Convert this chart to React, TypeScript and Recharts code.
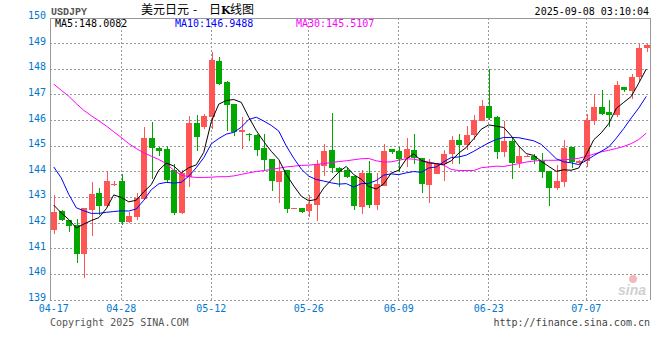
import { ComposedChart, Bar, Line, XAxis, YAxis, CartesianGrid, ReferenceLine } from 'recharts'

// daily candles, 04-17 .. mid July (Sina FX, includes Saturday rows)
const opens = [
  141.73, 142.47, 142.12, 141.92, 140.79, 142.51, 143.16, 142.68, 143.52, 143.64,
  142.03, 142.25, 142.94, 145.32, 144.94, 144.88, 144.06, 142.4, 143.81, 145.92,
  145.73, 146.12, 148.31, 147.51, 146.64, 145.56, 145.49, 145.43, 144.91, 144.49,
  143.61, 144.06, 142.56, 142.57, 142.48, 142.7, 144.23, 144.84, 144.16, 144.09,
  143.84, 142.64, 143.94, 142.7, 143.45, 144.88, 144.81, 144.52, 144.84, 144.52,
  143.48, 143.91, 144.32, 144.69, 145.23, 145.04, 145.43, 145.99, 146.56, 146.12,
  144.78, 145.19, 144.35, 144.6, 144.61, 144.42, 144.03, 143.38, 143.61, 144.95,
  144.35, 144.42, 145.99, 146.51, 146.34, 146.21, 147.29, 147.16, 147.7, 148.83,
]
const highs = [
  143.09, 142.5, 142.14, 142.16, 142.6, 143.6, 143.35, 144.03, 143.66, 143.91,
  142.44, 143.19, 145.75, 145.95, 144.95, 145.0, 144.3, 144.06, 146.17, 146.21,
  146.25, 148.68, 148.48, 147.53, 146.66, 146.14, 145.5, 145.49, 145.49, 144.5,
  144.42, 144.08, 142.6, 142.58, 143.09, 144.45, 145.08, 146.3, 144.17, 144.16,
  143.85, 144.09, 144.42, 143.97, 145.1, 144.89, 144.97, 145.32, 145.47, 144.53,
  144.49, 144.35, 144.87, 145.39, 145.47, 145.78, 146.21, 146.79, 148.03, 146.17,
  145.99, 145.3, 144.97, 144.64, 144.71, 144.75, 144.05, 144.26, 145.23, 144.96,
  144.48, 146.25, 146.99, 147.18, 146.79, 147.53, 147.3, 147.81, 149.0, 149.0,
]
const lows = [
  141.57, 142.1, 141.64, 140.43, 139.84, 141.51, 142.31, 142.66, 143.45, 141.92,
  141.99, 142.12, 142.9, 143.71, 144.62, 143.55, 142.31, 142.34, 143.42, 144.82,
  145.66, 145.66, 147.4, 145.58, 145.39, 144.88, 145.19, 144.61, 144.06, 143.25,
  142.79, 142.4, 142.54, 142.4, 142.22, 142.09, 143.84, 143.97, 143.42, 143.77,
  142.51, 142.35, 142.57, 142.51, 143.44, 144.71, 144.0, 144.19, 144.3, 143.18,
  142.79, 143.9, 143.65, 144.32, 144.32, 144.84, 145.23, 145.98, 146.01, 144.49,
  144.58, 143.71, 144.16, 144.58, 144.29, 143.77, 142.68, 143.31, 143.42, 144.16,
  144.32, 144.19, 145.82, 146.21, 145.75, 146.12, 147.12, 146.83, 147.53, 148.68,
]
const closes = [
  142.44, 142.12, 141.9, 140.79, 142.57, 143.13, 142.66, 143.64, 143.52, 142.03,
  142.29, 142.96, 145.32, 144.91, 144.82, 143.7, 142.4, 143.97, 145.92, 145.34,
  146.17, 148.35, 147.42, 146.6, 145.56, 145.62, 145.43, 144.84, 144.45, 143.64,
  144.03, 142.55, 142.58, 142.44, 142.74, 144.29, 144.81, 144.13, 144.0, 143.81,
  142.68, 143.94, 142.7, 143.52, 144.81, 144.78, 144.49, 144.88, 144.52, 143.52,
  144.35, 144.32, 144.71, 145.23, 145.04, 145.43, 146.04, 146.56, 146.1, 144.78,
  145.19, 144.35, 144.61, 144.62, 144.45, 144.0, 143.38, 143.64, 144.91, 144.39,
  144.42, 146.01, 146.51, 146.25, 146.21, 147.38, 147.18, 147.7, 148.83, 148.94,
]
const ma5 = [
  142.7, 142.4, 142.14, 141.81, 141.96, 142.1, 142.21, 142.56, 143.1, 143.0,
  142.83, 142.89, 143.22, 143.5, 144.06, 144.34, 144.23, 143.96, 144.16, 144.27,
  144.76, 145.95, 146.64, 146.78, 146.82, 146.71, 146.13, 145.61, 145.18, 144.8,
  144.48, 143.9, 143.45, 143.05, 142.87, 142.92, 143.37, 143.68, 143.99, 144.21,
  143.89, 143.71, 143.43, 143.33, 143.53, 143.95, 144.06, 144.5, 144.7, 144.44,
  144.35, 144.32, 144.28, 144.43, 144.73, 144.95, 145.29, 145.66, 145.83, 145.78,
  145.73, 145.4, 145.01, 144.71, 144.64, 144.41, 144.21, 144.02, 144.08, 144.06,
  144.15, 144.67, 145.25, 145.52, 145.88, 146.47, 146.71, 146.94, 147.46, 148.01,
]
const ma10 = [
  144.19, 143.76, 143.12, 142.6, 142.48, 142.38, 142.38, 142.42, 142.45, 142.48,
  142.47, 142.55, 142.89, 143.3, 143.53, 143.59, 143.56, 143.59, 143.83, 144.16,
  144.55, 145.09, 145.3, 145.47, 145.54, 145.74, 146.04, 146.13, 145.98, 145.81,
  145.59, 145.01, 144.53, 144.11, 143.83, 143.7, 143.64, 143.57, 143.52, 143.54,
  143.4, 143.54, 143.55, 143.66, 143.87, 143.92, 143.89, 143.96, 144.01, 143.98,
  144.15, 144.19, 144.39, 144.56, 144.58, 144.65, 144.8, 144.97, 145.13, 145.26,
  145.34, 145.34, 145.33, 145.27, 145.21, 145.07, 144.8, 144.51, 144.39, 144.35,
  144.28, 144.44, 144.63, 144.8, 144.97, 145.31, 145.69, 146.1, 146.49, 146.94,
]
const ma30 = [
  147.42, 147.18, 146.95, 146.66, 146.4, 146.19, 145.99, 145.79, 145.56, 145.34,
  145.1, 144.91, 144.74, 144.61, 144.48, 144.32, 144.06, 143.87, 143.81, 143.78,
  143.78, 143.79, 143.81, 143.81, 143.84, 143.9, 143.96, 144.01, 144.05, 144.09,
  144.14, 144.19, 144.22, 144.25, 144.26, 144.29, 144.32, 144.36, 144.4, 144.43,
  144.47, 144.51, 144.52, 144.43, 144.38, 144.39, 144.45, 144.51, 144.49, 144.44,
  144.38, 144.32, 144.26, 144.09, 144.05, 144.05, 144.05, 144.16, 144.19, 144.22,
  144.21, 144.26, 144.32, 144.38, 144.42, 144.45, 144.45, 144.45, 144.47, 144.49,
  144.53, 144.6, 144.69, 144.78, 144.84, 144.91, 144.99, 145.1, 145.26, 145.51,
]

const tickIdx = [0, 9, 21, 34, 46, 58, 71]
const tickLabels = ['04-17', '04-28', '05-12', '05-26', '06-09', '06-23', '07-07']
const gridIdx = tickIdx.slice(1) // no dotted line on the left border
const yTicks = [139, 140, 141, 142, 143, 144, 145, 146, 147, 148, 149, 150]

const data = closes.map((c, i) => ({
  i,
  open: opens[i],
  high: highs[i],
  low: lows[i],
  close: c,
  range: [lows[i], highs[i]],
  ma5: ma5[i],
  ma10: ma10[i],
  ma30: ma30[i],
}))

const UP = '#ff5555'
const DOWN = '#00a800'
const BLUE = '#0078d0'
const GRID = '#999999'
const MONO = '"DejaVu Sans Mono", monospace'

function Candle(props: any) {
  const { x, y, width, height, payload } = props
  const { open, close, high, low } = payload
  const top = Math.min(y, y + height)
  const h = Math.abs(height)
  const k = h / (high - low)
  const py = (v: number) => top + (high - v) * k
  const color = close >= open ? UP : DOWN
  const left = Math.round(x + width / 2 - 3)
  const bTop = py(Math.max(open, close))
  const bBot = py(Math.min(open, close))
  return (
    <g>
      <line x1={left + 3.5} x2={left + 3.5} y1={top} y2={top + h} stroke={color} shapeRendering="crispEdges" />
      <rect
        x={left}
        y={Math.round(bTop)}
        width={6}
        height={Math.max(1, Math.round(bBot) - Math.round(bTop))}
        fill={color}
        shapeRendering="crispEdges"
      />
    </g>
  )
}

function XTick(props: any) {
  const { x, payload } = props
  const pos = tickIdx.indexOf(payload.value)
  return (
    <text x={x} y={312} textAnchor="middle" fill={BLUE} fontSize={10} fontFamily={MONO}>
      {tickLabels[pos]}
    </text>
  )
}

function YTick(props: any) {
  const { y, payload } = props
  return (
    <text x={46} y={y + 1} textAnchor="end" fill={BLUE} fontSize={10} fontFamily={MONO}>
      {payload.value}
    </text>
  )
}

export default function App() {
  return (
    <div style={{ position: 'absolute', left: 0, top: 0, width: 660, height: 360, background: '#fff' }}>
      <ComposedChart
        width={660}
        height={360}
        data={data}
        margin={{ top: 18, right: 9, bottom: 30, left: 0 }}
        barCategoryGap={0}
      >
        <CartesianGrid vertical={false} stroke={GRID} strokeDasharray="2 2" shapeRendering="crispEdges" />
        <CartesianGrid xAxisId="g" horizontal={false} stroke={GRID} strokeDasharray="2 2" shapeRendering="crispEdges" />
        <ReferenceLine y={150} stroke="#999" shapeRendering="crispEdges" />
        <XAxis
          dataKey="i"
          type="category"
          ticks={tickIdx}
          interval={0}
          tickLine={false}
          axisLine={false}
          height={30}
          tick={<XTick />}
        />
        <XAxis xAxisId="g" dataKey="i" type="category" ticks={gridIdx} interval={0} hide />
        <YAxis
          domain={[139, 150]}
          ticks={yTicks}
          interval={0}
          width={50}
          allowDataOverflow
          tickLine={false}
          axisLine={{ stroke: '#999', shapeRendering: 'crispEdges' }}
          tick={<YTick />}
        />
        <YAxis
          yAxisId="r"
          orientation="right"
          domain={[139, 150]}
          width={1}
          tick={false}
          tickLine={false}
          axisLine={{ stroke: '#999', shapeRendering: 'crispEdges' }}
        />
        <Bar dataKey="range" shape={<Candle />} isAnimationActive={false} />
        <Line dataKey="ma30" stroke="#ff00ff" strokeWidth={1} dot={false} isAnimationActive={false} />
        <Line dataKey="ma10" stroke="#0000ff" strokeWidth={1} dot={false} isAnimationActive={false} />
        <Line dataKey="ma5" stroke="#000000" strokeWidth={1} dot={false} isAnimationActive={false} />
      </ComposedChart>

      <svg
        width={660}
        height={360}
        style={{ position: 'absolute', left: 0, top: 0, pointerEvents: 'none' }}
      >
        <text x={51} y={15} fontSize={10} fontFamily='"Liberation Mono", monospace' fontWeight="bold" fill="#555">
          USDJPY
        </text>
        <g fontSize={12} fontFamily='"Noto Sans CJK SC", sans-serif' fill="#000">
          <text x={141} y={14}>美元日元</text>
          <text x={193} y={14}>-</text>
          <text x={209} y={14}>日</text>
          <text x={221} y={14} fontFamily='"DejaVu Serif", serif' fontWeight="bold" fontSize={11}>K</text>
          <text x={230} y={14}>线图</text>
        </g>
        <text x={649} y={15} textAnchor="end" fontSize={10} fontFamily={MONO} fill="#000">
          2025-09-08 03:10:04
        </text>

        <g fontSize={10} fontFamily={MONO}>
          <text x={55} y={27} fill="#000">MA5:148.0082</text>
          <text x={175} y={27} fill="#0000ff">MA10:146.9488</text>
          <text x={296} y={27} fill="#ff00ff">MA30:145.5107</text>
        </g>

        <circle cx={633} cy={279} r={4} fill="#f6b9b9" />
        <text x={618} y={295} fontSize={14} fontStyle="italic" fontWeight="bold" fontFamily="Arial, sans-serif" fill="#d0d0d0">
          sina
        </text>

        <g fontSize={10} fontFamily={MONO}>
          <text x={50} y={326} fill="#555">Copyright 2025 SINA.COM</text>
          <text x={650} y={326} textAnchor="end" fill="#444">http://finance.sina.com.cn</text>
        </g>
      </svg>
    </div>
  )
}
